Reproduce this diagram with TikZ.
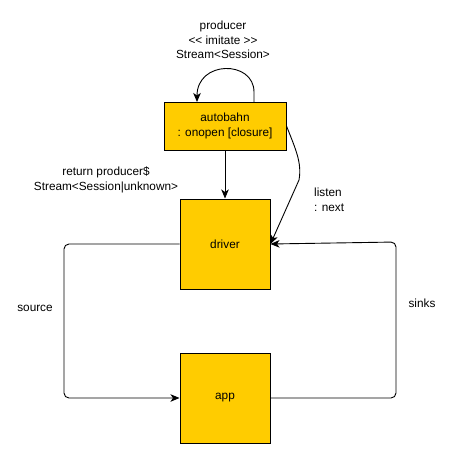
\documentclass[tikz,border=0pt]{standalone}
\usepackage{fontspec}
\setmainfont[Ligatures=NoCommon]{Liberation Sans}
\usetikzlibrary{arrows.meta}
\definecolor{boxfill}{HTML}{FFCC00}
\begin{document}
\begin{tikzpicture}[x=1pt,y=-1pt,
  box/.style={draw=black, line width=1pt, fill=boxfill, inner sep=0pt, align=center, font=\fontsize{11.8}{15}\selectfont},
  lbl/.style={inner sep=0pt, align=center, font=\fontsize{11.8}{14.5}\selectfont},
  conn/.style={draw=black, line width=0.9pt, -{Stealth[length=9pt,width=7.5pt,inset=2.5pt]}}]
\useasboundingbox (0,0) rectangle (454,459);
\node[box, minimum width=122pt, minimum height=48pt] (auto) at (225,126) {autobahn\\: onopen [closure]};
\node[box, minimum width=90pt, minimum height=90pt] (driver) at (225,244) {driver};
\node[box, minimum width=90pt, minimum height=90pt] (app) at (225,398) {app};
% self loop
\coordinate (ls) at (254,102);
\coordinate (le) at (197,102);
\draw[conn] (ls) -- (254,92) .. controls (254,60) and (197,60) .. (le);
\node[lbl] (lloop) at (223,40) {producer\\<{}< imitate >{}>\\Stream<Session>};
% autobahn -> driver
\draw[conn] (auto.south) -- (driver.north);
\node[lbl] (lret) at (106,180) {return producer\$\\Stream<Session|unknown>};
% listen curve
\draw[conn] (auto.east) .. controls (296,150) and (302,163) .. (299,180) -- (driver.east);
\node[lbl, anchor=west, align=left] (llisten) at (314,200) {listen\\: next};
% source
\draw[conn, rounded corners=5pt] (driver.west) -- (64,244) -- (64,398) -- (app.west);
\node[lbl] (lsource) at (35,308) {source};
% sinks
\draw[conn, rounded corners=5pt] (app.east) -- (396,398) -- (396,242) -- (driver.east);
\node[lbl] (lsinks) at (422,303) {sinks};
\end{tikzpicture}
\end{document}
